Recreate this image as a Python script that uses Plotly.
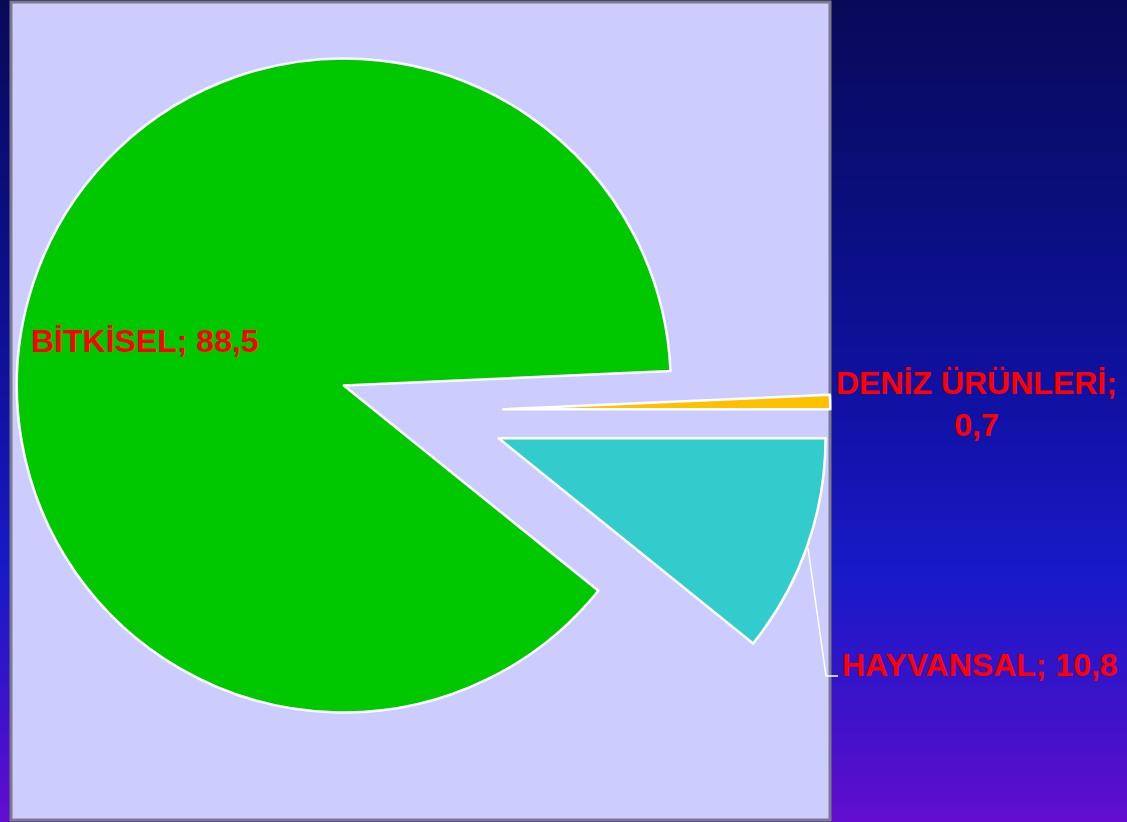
import plotly.graph_objects as go

# ---- data ----
labels = ["HAYVANSAL", "BİTKİSEL", "DENİZ ÜRÜNLERİ"]
values = [10.8, 88.5, 0.7]
colors = ["#33CCCC", "#00C800", "#FFC000"]
pulls = [0.25, 0.25, 0.25]

W, H = 1127, 822

def fmt(v):
    return str(v).replace(".", ",")

fig = go.Figure()
fig.add_trace(go.Pie(
    labels=labels, values=values, sort=False,
    direction="clockwise", rotation=90,
    pull=pulls,
    marker=dict(colors=colors, line=dict(color="white", width=2.5)),
    textinfo="none", hoverinfo="label+value",
    showlegend=False,
    domain=dict(x=[12.75 / W, 830.25 / W], y=[2.25 / H, 819.75 / H]),
))

# ---- background gradient (styling) ----
stops = [(0.0, (8, 10, 88)), (0.25, (10, 14, 125)), (0.5, (16, 18, 165)),
         (0.7, (24, 26, 200)), (0.83, (52, 20, 200)), (1.0, (98, 12, 206))]

def col(t):
    for (t0, c0), (t1, c1) in zip(stops[:-1], stops[1:]):
        if t0 <= t <= t1:
            f = (t - t0) / (t1 - t0)
            return "rgb(%d,%d,%d)" % tuple(round(a + (b - a) * f) for a, b in zip(c0, c1))
    return "rgb(%d,%d,%d)" % stops[-1][1]

shapes = []
n = 137
for i in range(n):
    top = i / n
    bot = (i + 1) / n
    shapes.append(dict(type="rect", xref="paper", yref="paper", layer="below",
                       x0=0, x1=1, y0=1 - bot - 0.002, y1=1 - top,
                       fillcolor=col((top + bot) / 2), line=dict(width=0)))
# plot area
shapes.append(dict(type="rect", xref="paper", yref="paper", layer="below",
                   x0=11 / W, x1=830 / W, y0=(H - 820) / H, y1=(H - 2) / H,
                   fillcolor="#CCCCFF", line=dict(color="#7A7A8A", width=3)))
# leader line for HAYVANSAL
shapes.append(dict(type="path", xref="paper", yref="paper", layer="above",
                   path="M %f,%f L %f,%f L %f,%f" % (808 / W, 1 - 548 / H, 826 / W, 1 - 676 / H, 838 / W, 1 - 676 / H),
                   line=dict(color="white", width=1.5)))

font = dict(family="Liberation Sans, Arial, sans-serif", size=32, color="#FF0000")
annotations = [
    dict(text="<b>%s; %s</b>" % (labels[1], fmt(values[1])), xref="paper", yref="paper",
         x=29 / W, y=1 - 341 / H, xanchor="left", yanchor="middle", showarrow=False, font=font),
    dict(text="<b>%s;<br>%s</b>" % (labels[2], fmt(values[2])), xref="paper", yref="paper",
         x=976 / W, y=1 - 404 / H, xanchor="center", yanchor="middle", showarrow=False,
         font=font, align="center"),
    dict(text="<b>%s; %s</b>" % (labels[0], fmt(values[0])), xref="paper", yref="paper",
         x=840 / W, y=1 - 665 / H, xanchor="left", yanchor="middle", showarrow=False, font=font),
]

fig.update_layout(width=W, height=H, margin=dict(l=0, r=0, t=0, b=0),
                  paper_bgcolor="#0A0C70", plot_bgcolor="rgba(0,0,0,0)",
                  shapes=shapes, annotations=annotations)
fig.write_html("out.html")
